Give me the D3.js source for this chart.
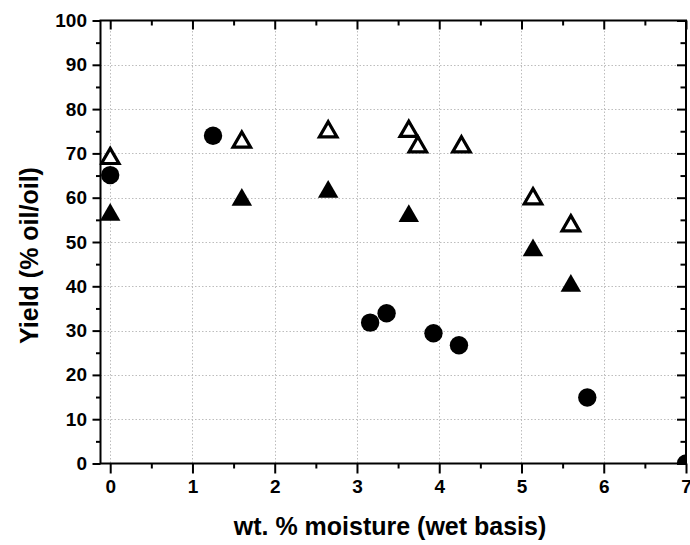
<!DOCTYPE html>
<html>
<head>
<meta charset="utf-8">
<script src="https://cdn.jsdelivr.net/npm/d3@7/dist/d3.min.js"></script>
<style>
  html, body { margin: 0; padding: 0; background: #fff; }
  svg { display: block; }
  text { font-family: "Liberation Sans", Arial, Helvetica, sans-serif; font-weight: bold; }
</style>
</head>
<body>
<svg id="chart" width="690" height="545"></svg>
<script>
// ---- data ----
const circleX = [0, 1.25, 3.16, 3.36, 3.93, 4.24, 5.80, 7.0];
const circleY = [65.1, 74.0, 31.8, 33.9, 29.4, 26.7, 14.9, 0];

const openTriX = [0, 1.6, 2.65, 3.63, 3.74, 4.27, 5.14, 5.6];
const openTriY = [69.5, 73.2, 75.5, 75.6, 72.1, 72.1, 60.4, 54.3];

const fillTriX = [0, 1.6, 2.65, 3.63, 5.14, 5.6];
const fillTriY = [56.8, 60.2, 62.0, 56.5, 48.8, 40.8];

const xMajorTicks = [0, 1, 2, 3, 4, 5, 6, 7];
const xMinorTicks = [0.5, 1.5, 2.5, 3.5, 4.5, 5.5, 6.5];
const yMajorTicks = [0, 10, 20, 30, 40, 50, 60, 70, 80, 90, 100];
const yMinorTicks = [5, 15, 25, 35, 45, 55, 65, 75, 85, 95];

const xTitle = "wt. % moisture (wet basis)";
const yTitle = "Yield (% oil/oil)";

// ---- layout ----
const L = 100.5, R = 686, T = 20.5, B = 463.5;
const svg = d3.select("#chart");

const x = d3.scaleLinear().domain([-0.118, 7]).range([L, R]);
const y = d3.scaleLinear().domain([0, 100]).range([B, T]);

// grid
const grid = svg.append("g").attr("stroke", "#bdbdbd").attr("stroke-width", 1)
  .attr("stroke-dasharray", "1.5,2");
grid.selectAll(".gx").data(xMajorTicks.filter(d => d < 7)).enter().append("line")
  .attr("x1", d => Math.round(x(d)) + 0.5).attr("x2", d => Math.round(x(d)) + 0.5)
  .attr("y1", T).attr("y2", B);
grid.selectAll(".gy").data(yMajorTicks.filter(d => d > 0 && d < 100)).enter().append("line")
  .attr("y1", d => Math.round(y(d)) + 0.5).attr("y2", d => Math.round(y(d)) + 0.5)
  .attr("x1", L).attr("x2", R);

// clip
svg.append("clipPath").attr("id", "plotclip").append("rect")
  .attr("x", L - 1).attr("y", T).attr("width", R - L + 1).attr("height", B - T);

const marks = svg.append("g").attr("clip-path", "url(#plotclip)");

function triPath(cx, cy, s) {
  const h = s * Math.sqrt(3) / 2;
  return `M${cx},${cy - h / 2}L${cx + s / 2},${cy + h / 2}L${cx - s / 2},${cy + h / 2}Z`;
}

// filled triangles
marks.selectAll(".ft").data(fillTriX.map((d, i) => [d, fillTriY[i]])).enter().append("path")
  .attr("d", d => triPath(x(d[0]), y(d[1]), 20.5))
  .attr("fill", "#000");

// open triangles
marks.selectAll(".ot").data(openTriX.map((d, i) => [d, openTriY[i]])).enter().append("path")
  .attr("d", d => triPath(x(d[0]), y(d[1]) + 0.3, 17.5))
  .attr("fill", "#fff").attr("stroke", "#000").attr("stroke-width", 3.2)
  .attr("stroke-linejoin", "miter").attr("stroke-miterlimit", 2.2);

// circles
marks.selectAll(".c").data(circleX.map((d, i) => [d, circleY[i]])).enter().append("circle")
  .attr("cx", d => x(d[0])).attr("cy", d => y(d[1])).attr("r", 9.2)
  .attr("fill", "#000");

// axes
function styleAxis(g) {
  g.select(".domain").remove();
  g.selectAll("line").attr("stroke", "#000").attr("stroke-width", 2);
  g.selectAll("text").attr("font-size", 19).attr("fill", "#000")
    .style("font-family", '"Liberation Sans", Arial, sans-serif').style("font-weight", "bold");
}

// bottom
svg.append("g").attr("transform", `translate(0,${B})`)
  .call(d3.axisBottom(x).tickValues(xMajorTicks).tickFormat(d3.format("d")).tickSize(10).tickPadding(6.5))
  .call(styleAxis);
svg.append("g").attr("transform", `translate(0,${B})`)
  .call(d3.axisBottom(x).tickValues(xMinorTicks).tickFormat("").tickSize(5))
  .call(styleAxis);
// top (inward)
svg.append("g").attr("transform", `translate(0,${T})`)
  .call(d3.axisTop(x).tickValues(xMajorTicks).tickFormat("").tickSize(-9))
  .call(styleAxis);
svg.append("g").attr("transform", `translate(0,${T})`)
  .call(d3.axisTop(x).tickValues(xMinorTicks).tickFormat("").tickSize(-5))
  .call(styleAxis);
// left
svg.append("g").attr("transform", `translate(${L},0)`)
  .call(d3.axisLeft(y).tickValues(yMajorTicks).tickFormat(d3.format("d")).tickSize(8).tickPadding(5.5))
  .call(styleAxis);
svg.append("g").attr("transform", `translate(${L},0)`)
  .call(d3.axisLeft(y).tickValues(yMinorTicks).tickFormat("").tickSize(4.5))
  .call(styleAxis);
// right (inward)
svg.append("g").attr("transform", `translate(${R},0)`)
  .call(d3.axisRight(y).tickValues(yMajorTicks).tickFormat("").tickSize(-9))
  .call(styleAxis);
svg.append("g").attr("transform", `translate(${R},0)`)
  .call(d3.axisRight(y).tickValues(yMinorTicks).tickFormat("").tickSize(-5.5))
  .call(styleAxis);

// frame
svg.append("rect").attr("x", L).attr("y", T).attr("width", R - L).attr("height", B - T)
  .attr("fill", "none").attr("stroke", "#000").attr("stroke-width", 2);

// titles
svg.append("text").attr("x", 390).attr("y", 535).attr("text-anchor", "middle")
  .attr("font-size", 25).text(xTitle);
svg.append("text").attr("transform", "translate(38,255.5) rotate(-90)").attr("text-anchor", "middle")
  .attr("font-size", 25).text(yTitle);
</script>
</body>
</html>
